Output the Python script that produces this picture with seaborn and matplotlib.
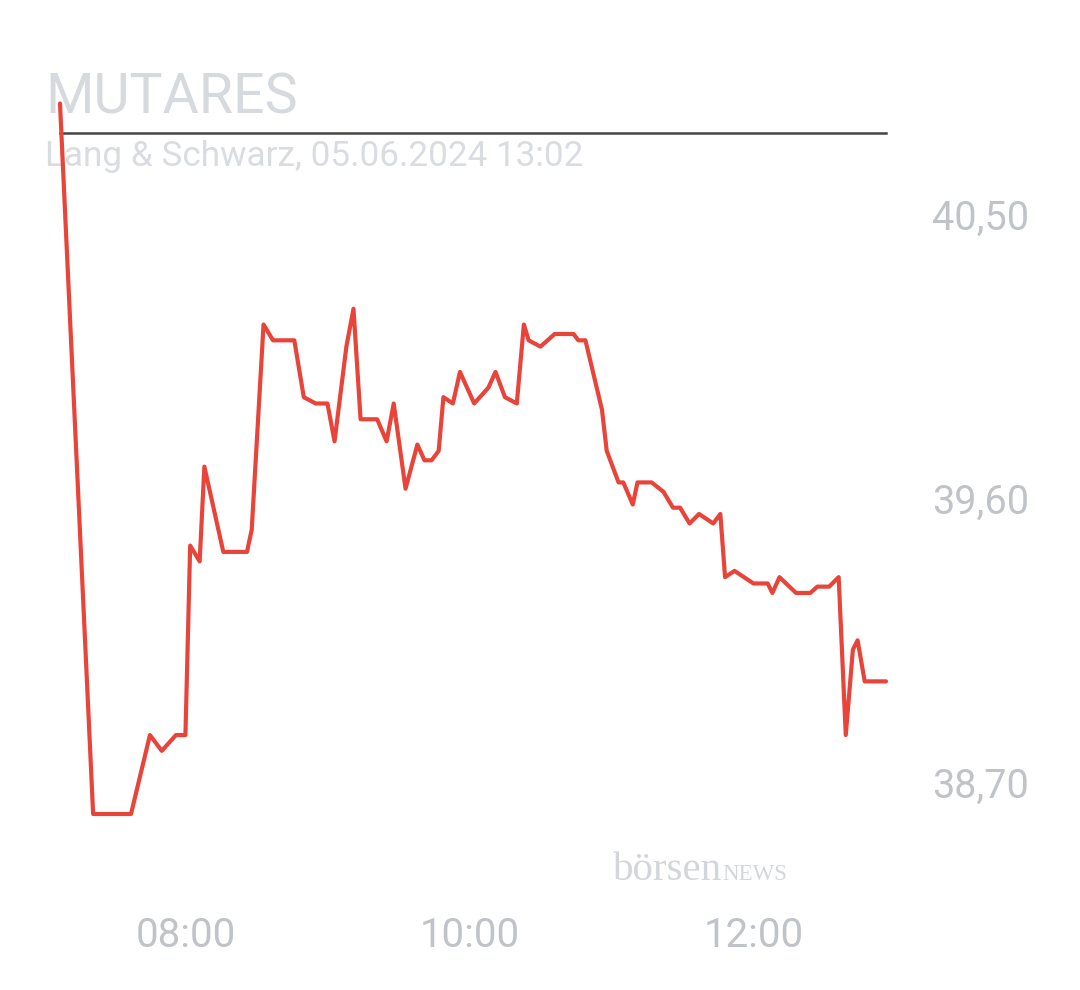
import pandas as pd
import seaborn as sns
import matplotlib.pyplot as plt
import matplotlib.dates as mdates

# Intraday quotes (Lang & Schwarz)
times = ["07:07", "07:21", "07:37", "07:45", "07:50", "07:56", "08:00", "08:02",
         "08:06", "08:08", "08:16", "08:26", "08:28", "08:33", "08:37", "08:46",
         "08:50", "08:55", "09:00", "09:03", "09:08", "09:11", "09:14", "09:21",
         "09:25", "09:28", "09:33", "09:38", "09:41", "09:44", "09:47", "09:49",
         "09:53", "09:56", "10:02", "10:08", "10:11", "10:15", "10:20", "10:23",
         "10:25", "10:30", "10:36", "10:44", "10:46", "10:49", "10:56", "10:58",
         "11:03", "11:05", "11:09", "11:11", "11:17", "11:22", "11:26", "11:29",
         "11:33", "11:37", "11:43", "11:46", "11:48", "11:52", "12:00", "12:06",
         "12:08", "12:11", "12:18", "12:24", "12:27", "12:32", "12:36", "12:39",
         "12:42", "12:44", "12:47", "12:56"]
prices = [40.85, 38.60, 38.60, 38.85, 38.80, 38.85, 38.85, 39.45,
          39.40, 39.70, 39.43, 39.43, 39.50, 40.15, 40.10, 40.10,
          39.92, 39.90, 39.90, 39.78, 40.08, 40.20, 39.85, 39.85,
          39.78, 39.90, 39.63, 39.77, 39.72, 39.72, 39.75, 39.92,
          39.90, 40.00, 39.90, 39.95, 40.00, 39.92, 39.90, 40.15,
          40.10, 40.08, 40.12, 40.12, 40.10, 40.10, 39.88, 39.75,
          39.65, 39.65, 39.58, 39.65, 39.65, 39.62, 39.57, 39.57,
          39.52, 39.55, 39.52, 39.55, 39.35, 39.37, 39.33, 39.33,
          39.30, 39.35, 39.30, 39.30, 39.32, 39.32, 39.35, 38.85,
          39.12, 39.15, 39.02, 39.02]

x_ticks = ["08:00", "10:00", "12:00"]
y_ticks = [38.70, 39.60, 40.50]

day = "2024-06-05 "
df = pd.DataFrame({"time": pd.to_datetime([day + t for t in times]), "price": prices})

sns.set_theme(style="white")
plt.rcParams["font.family"] = ["Roboto", "DejaVu Sans"]

fig = plt.figure(figsize=(10.8, 9.9), dpi=100)
ax = fig.add_axes([60 / 1080, 1 - 880 / 990, 826 / 1080, 747 / 990])

sns.lineplot(data=df, x="time", y="price", ax=ax, color="#e8443a", lw=3.0,
             sort=False, zorder=5, clip_on=False)

ax.set_xlim(df["time"].iloc[0], df["time"].iloc[-1])
ax.set_ylim(38.391, 40.7565)

ax.set_xticks(pd.to_datetime([day + t for t in x_ticks]))
ax.xaxis.set_major_formatter(mdates.DateFormatter("%H:%M"))
ax.yaxis.tick_right()
ax.set_yticks(y_ticks)
ax.set_yticklabels([f"{v:.2f}".replace(".", ",") for v in y_ticks])
ax.tick_params(axis="x", length=0, pad=26, labelsize=29, labelcolor="#c0c3c8")
ax.tick_params(axis="y", length=0, pad=33, labelsize=28.5, labelcolor="#c0c3c8")
ax.set_xlabel("")
ax.set_ylabel("")
ax.grid(False)

for side in ["left", "right", "bottom"]:
    ax.spines[side].set_visible(False)
ax.spines["top"].set_color("#444444")
ax.spines["top"].set_linewidth(1.8)

ax.text(45 / 1080, 1 - 114 / 990, "MUTARES", transform=fig.transFigure,
        fontsize=40, color="#d6d9dd", va="baseline", ha="left", zorder=1)
ax.text(45 / 1080, 1 - 166 / 990, "Lang & Schwarz, 05.06.2024 13:02",
        transform=fig.transFigure, fontsize=25.3, color="#d9dce0",
        va="baseline", ha="left", zorder=1)

# watermark
ax.text(613 / 1080, 1 - 880 / 990, "börsen", transform=fig.transFigure,
        fontsize=29.5, color="#d3d6da", family="Liberation Serif",
        va="baseline", ha="left", zorder=1)
ax.text(722 / 1080, 1 - 880 / 990, "NEWS", transform=fig.transFigure,
        fontsize=16.5, color="#d3d6da", family="Liberation Serif",
        va="baseline", ha="left", zorder=1)

fig.savefig("out.png", dpi=100, facecolor="white")
